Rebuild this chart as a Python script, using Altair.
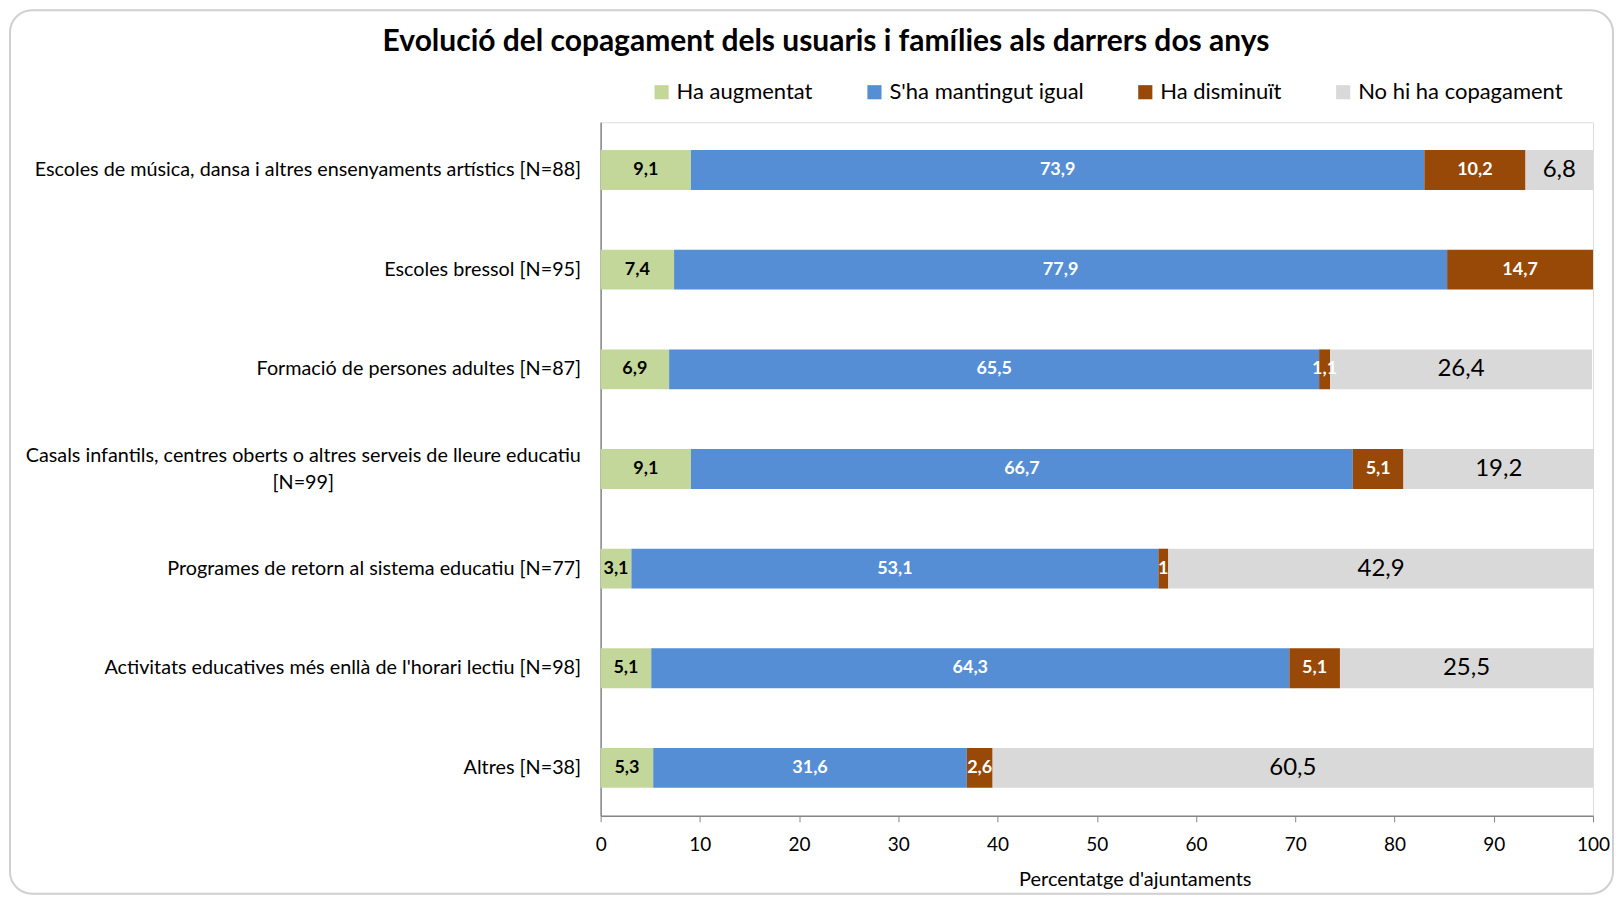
import altair as alt
import pandas as pd

categories = [
    "Escoles de música, dansa i altres ensenyaments artístics [N=88]",
    "Escoles bressol [N=95]",
    "Formació de persones adultes [N=87]",
    "Casals infantils, centres oberts o altres serveis de lleure educatiu|[N=99]",
    "Programes de retorn al sistema educatiu [N=77]",
    "Activitats educatives més enllà de l'horari lectiu [N=98]",
    "Altres [N=38]",
]
series = ["Ha augmentat", "S'ha mantingut igual", "Ha disminuït", "No hi ha copagament"]
ha_augmentat = [9.1, 7.4, 6.9, 9.1, 3.1, 5.1, 5.3]
mantingut_igual = [73.9, 77.9, 65.5, 66.7, 53.1, 64.3, 31.6]
ha_disminuit = [10.2, 14.7, 1.1, 5.1, 1, 5.1, 2.6]
no_copagament = [6.8, 0, 26.4, 19.2, 42.9, 25.5, 60.5]
colors = ["#C4D79B", "#558ED5", "#984807", "#D9D9D9"]
x_ticks = [0, 10, 20, 30, 40, 50, 60, 70, 80, 90, 100]

rows = []
for i, cat in enumerate(categories):
    for j, (s, vals) in enumerate(zip(series, [ha_augmentat, mantingut_igual, ha_disminuit, no_copagament])):
        if vals[i] > 0:
            rows.append({"cat": cat, "serie": s, "value": vals[i], "ord": j})
df = pd.DataFrame(rows)

FONT = "Lato"
W, H = 993, 694
MULTI = "indexof(datum.label, '|') >= 0"

base = alt.Chart(df).transform_stack(
    stack="value", as_=["x0", "x1"], groupby=["cat"], sort=[alt.SortField("ord")]
).transform_calculate(
    mid="(datum.x0 + datum.x1) / 2",
    label="replace(toString(datum.value), '.', ',')",
)

y_enc = alt.Y(
    "cat:N",
    sort=categories,
    scale=alt.Scale(paddingInner=0.6, paddingOuter=0.28),
    axis=alt.Axis(
        title=None,
        ticks=False,
        labelPadding={"condition": {"test": MULTI, "value": 298}, "value": 20},
        labelAlign={"condition": {"test": MULTI, "value": "center"}, "value": "right"},
        labelOffset={"condition": {"test": MULTI, "value": -13}, "value": 0},
        labelFontSize=19.8,
        labelColor="#000000",
        labelFont=FONT,
        labelLimit=700,
        labelLineHeight=27,
        labelExpr="split(datum.label, '|')",
        domainColor="#868686",
        domainWidth=1.5,
    ),
)

bars = base.mark_bar().encode(
    x=alt.X(
        "x0:Q",
        scale=alt.Scale(domain=[0, 100], nice=False),
        axis=alt.Axis(
            values=x_ticks,
            title="Percentatge d'ajuntaments",
            titleFontSize=20,
            titleFontWeight="normal",
            titleFont=FONT,
            titleColor="#000000",
            titlePadding=15,
            titleX=W / 2 + 38,
            labelFontSize=19,
            labelFont=FONT,
            labelColor="#000000",
            labelPadding=14,
            labelFlush=False,
            tickSize=6,
            tickColor="#868686",
            domainColor="#868686",
            domainWidth=1.5,
            grid=False,
        ),
    ),
    x2="x1:Q",
    y=y_enc,
    color=alt.Color(
        "serie:N",
        scale=alt.Scale(domain=series, range=colors),
        legend=alt.Legend(
            title=None,
            orient="none",
            legendX=50,
            legendY=-41,
            direction="horizontal",
            columns=4,
            columnPadding=50,
            symbolType="square",
            symbolSize=200,
            symbolStrokeWidth=0,
            labelFontSize=22,
            labelFont=FONT,
            labelColor="#000000",
            labelOffset=4,
            labelLimit=400,
        ),
    ),
)

txt_dark = base.transform_filter(alt.datum.serie == series[0]).mark_text(
    font=FONT, fontSize=18, fontWeight="bold", color="#000000"
).encode(x="mid:Q", y=alt.Y("cat:N", sort=categories), text="label:N")

txt_white = base.transform_filter(
    (alt.datum.serie == series[1]) | (alt.datum.serie == series[2])
).mark_text(font=FONT, fontSize=18, fontWeight="bold", color="#FFFFFF").encode(
    x="mid:Q", y=alt.Y("cat:N", sort=categories), text="label:N"
)

txt_gray = base.transform_filter(alt.datum.serie == series[3]).mark_text(
    font=FONT, fontSize=24, color="#000000"
).encode(x="mid:Q", y=alt.Y("cat:N", sort=categories), text="label:N")

frame = alt.Chart(pd.DataFrame({"a": [0]})).mark_rect(
    fillOpacity=0, stroke="#D0D0D0", strokeWidth=2, cornerRadius=22
).encode(
    x=alt.value(-591), x2=alt.value(W + 20), y=alt.value(-112), y2=alt.value(H + 78)
)

chart = alt.layer(frame, bars, txt_dark, txt_white, txt_gray).properties(
    width=W,
    height=H,
    autosize=alt.AutoSizeParams(type="none"),
    padding={"left": 593, "top": 114, "right": 23, "bottom": 84},
    title=alt.Title(
        "Evolució del copagament dels usuaris i famílies als darrers dos anys",
        font=FONT,
        fontSize=30,
        fontWeight="bold",
        color="#000000",
        anchor="middle",
        dx=-271,
        offset=-48,
    ),
).configure_view(stroke=None).configure(background="#FFFFFF")

chart.save("out.html", embed_options={"renderer": "svg", "actions": False})
